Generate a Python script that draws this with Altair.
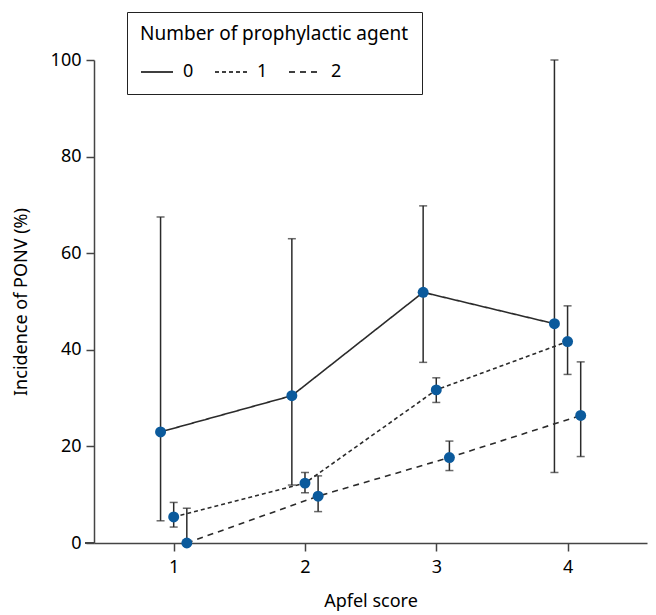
import altair as alt
import pandas as pd

scores = [1, 2, 3, 4]
agents = ["0", "1", "2"]
inc0 = [23.0, 30.5, 51.9, 45.4]
lo0 = [4.6, 12.0, 37.4, 14.6]
hi0 = [67.5, 63.0, 69.8, 100.0]
inc1 = [5.4, 12.4, 31.7, 41.7]
lo1 = [3.3, 10.4, 29.1, 34.9]
hi1 = [8.4, 14.6, 34.2, 49.1]
inc2 = [0.0, 9.7, 17.7, 26.4]
lo2 = [0.0, 6.5, 15.0, 17.9]
hi2 = [7.2, 13.9, 21.1, 37.5]

rows = []
for a, inc, lo, hi in zip(agents, [inc0, inc1, inc2], [lo0, lo1, lo2], [hi0, hi1, hi2]):
    for s, v, l, h in zip(scores, inc, lo, hi):
        rows.append({"score": s, "agent": a, "inc": v, "lo": l, "hi": h})
df = pd.DataFrame(rows)

FONT = "Noto Sans"
INK = "#2b2b2b"
BLUE = "#0b5a9c"

base = alt.Chart(df).transform_calculate(
    xpos="datum.score + (toNumber(datum.agent) - 1) * 0.1"
)

xenc = alt.X("xpos:Q", scale=alt.Scale(domain=[0.393, 4.605], nice=False, zero=False),
             axis=alt.Axis(values=[1, 2, 3, 4], format="d", title="Apfel score",
                           grid=False, tickSize=8, labelPadding=7, titlePadding=16))
yenc = alt.Y("inc:Q", scale=alt.Scale(domain=[0, 100], nice=False),
             axis=alt.Axis(values=[0, 20, 40, 60, 80, 100], title="Incidence of PONV (%)",
                           grid=False, tickSize=8, labelPadding=5, titlePadding=20))

rules = base.mark_rule(color=INK, strokeWidth=1.5).encode(
    x=xenc, y=alt.Y("lo:Q"), y2="hi:Q")
tick_lo = base.mark_tick(orient="horizontal", size=8, thickness=1.5, color=INK).encode(
    x="xpos:Q", y="lo:Q")
tick_hi = base.mark_tick(orient="horizontal", size=8, thickness=1.5, color=INK).encode(
    x="xpos:Q", y="hi:Q")

lines = base.mark_line(color=INK, strokeWidth=1.6).encode(
    x="xpos:Q", y=yenc,
    strokeDash=alt.StrokeDash(
        "agent:N",
        scale=alt.Scale(domain=agents, range=[[1, 0], [4, 3], [6, 5]]),
        legend=alt.Legend(
            title="Number of prophylactic agent", orient="none", legendX=33, legendY=-48,
            direction="horizontal", symbolType="stroke", symbolSize=1024,
            symbolStrokeColor="black", symbolStrokeWidth=1.5, labelOffset=9,
            columnPadding=18, titleFontSize=19, labelFontSize=18, titleFontWeight="normal",
            titleColor="black", labelColor="black", strokeColor="#222", fillColor="white",
            padding=13, titlePadding=11, titleFont=FONT, labelFont=FONT, titleLimit=500,
        ),
    ),
)

points = base.mark_circle(size=120, color=BLUE, opacity=1).encode(x="xpos:Q", y="inc:Q")

ext = alt.Chart(df).mark_rule(color="#444", strokeWidth=1.5).encode(
    x=alt.value(-9), x2=alt.value(0), y=alt.value(483))

chart = alt.layer(rules, tick_lo, tick_hi, lines, points, ext).properties(
    width=553, height=483,
    autosize=alt.AutoSizeParams(type="none"),
    padding={"left": 86, "top": 52, "right": 1, "bottom": 70},
).configure_view(stroke=None).configure_axis(
    domainColor="#444", domainWidth=1.5, tickColor="#444", tickWidth=1.5,
    labelFont=FONT, titleFont=FONT, labelFontSize=18, titleFontSize=18,
    labelColor="black", titleColor="black", titleFontWeight="normal",
)

chart.save("out.html", embed_options={"renderer": "svg", "actions": False})
